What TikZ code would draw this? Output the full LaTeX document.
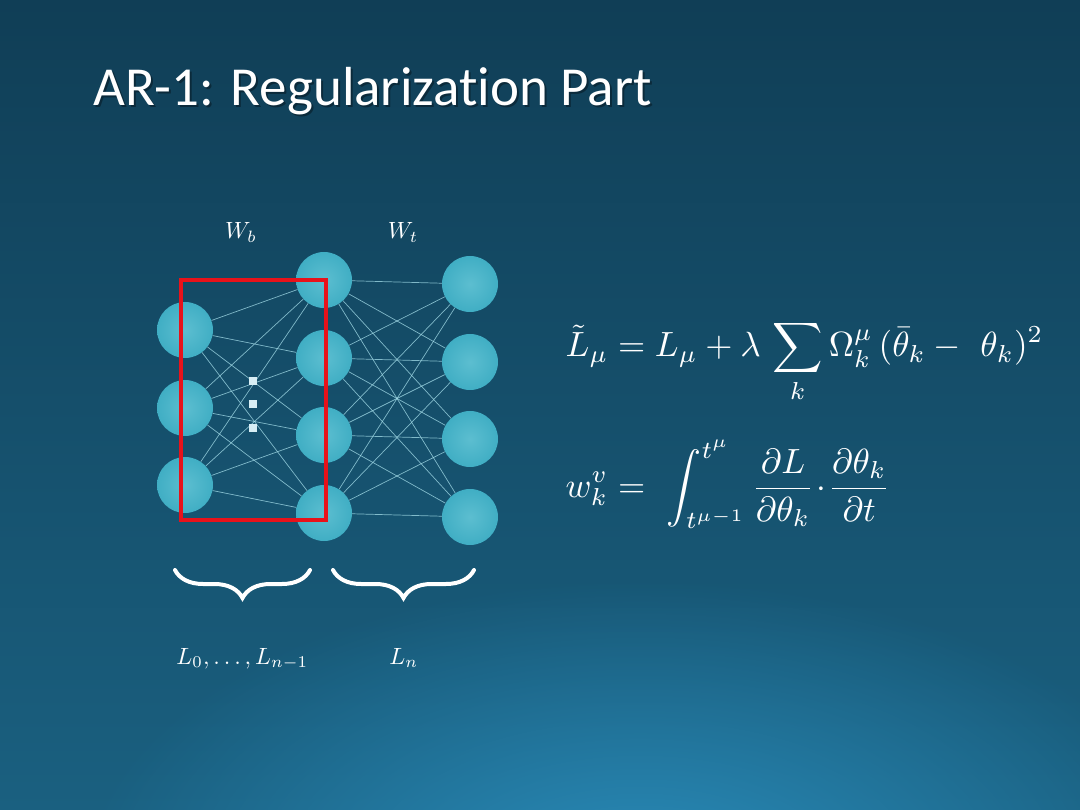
\documentclass[tikz,border=0pt]{standalone}
\usepackage{amsmath}
\usepackage{fontspec}
\newfontfamily\titlefont[Ligatures=NoCommon]{Carlito}
\usetikzlibrary{decorations.pathreplacing,fadings}
\definecolor{bgtop}{RGB}{16,62,86}
\definecolor{bgbot}{RGB}{26,96,128}
\definecolor{glowc}{RGB}{42,140,186}
\definecolor{neuron}{RGB}{64,174,196}
\definecolor{neuronhi}{RGB}{92,190,208}
\definecolor{edgec}{RGB}{165,222,234}
\definecolor{boxred}{RGB}{232,18,26}
\definecolor{dotc}{RGB}{215,238,245}
\tikzfading[name=glowfade, inner color=transparent!0, outer color=transparent!100]
\pgfdeclarelayer{bg}
\pgfdeclarelayer{edges}
\pgfsetlayers{bg,edges,main}
\begin{document}
\begin{tikzpicture}[x=1pt,y=-1pt,
  neuron/.style={circle, minimum size=56pt, inner sep=0pt, draw=none,
    shading=radial, inner color=neuronhi, outer color=neuron},
  edge/.style={edgec, line width=0.7pt, opacity=0.75},
  dotsq/.style={rectangle, fill=dotc, minimum size=8pt, inner sep=0pt},
  lbl/.style={text=white, font=\normalsize, inner sep=0pt, scale=2.35, transform shape},
  eq/.style={text=white, font=\normalsize, inner sep=0pt, anchor=base west, scale=3.5, transform shape},
  bracestyle/.style={draw=white, line width=4pt, line cap=round,
    decorate, decoration={brace, mirror, amplitude=28pt}}
]
\useasboundingbox (0,0) rectangle (1080,810);
\begin{pgfonlayer}{bg}
  \shade[top color=bgtop, bottom color=bgbot] (0,0) rectangle (1080,810);
  \fill[glowc, path fading=glowfade] (640,880) ellipse (560 and 300);
\end{pgfonlayer}

% title
\node[anchor=base west, text=black, opacity=0.35, inner sep=0pt,
  font=\titlefont\fontsize{55}{62}\selectfont] (titleshadow) at (95,108) {AR-1: Regularization Part};
\node[anchor=base west, text=white, inner sep=0pt,
  font=\titlefont\fontsize{55}{62}\selectfont] (title) at (93,106) {AR-1: Regularization Part};

% neurons
\node[neuron] (l1) at (185,330) {};
\node[neuron] (l2) at (185,408) {};
\node[neuron] (l3) at (185,485) {};
\node[neuron] (m1) at (324,280) {};
\node[neuron] (m2) at (324,358) {};
\node[neuron] (m3) at (324,435) {};
\node[neuron] (m4) at (324,513) {};
\node[neuron] (r1) at (470,284) {};
\node[neuron] (r2) at (470,362) {};
\node[neuron] (r3) at (470,439) {};
\node[neuron] (r4) at (470,517) {};

\begin{pgfonlayer}{edges}
  \foreach \a in {l1,l2,l3}
    \foreach \b in {m1,m2,m3,m4}
      \draw[edge] (\a) -- (\b);
  \foreach \a in {m1,m2,m3,m4}
    \foreach \b in {r1,r2,r3,r4}
      \draw[edge] (\a) -- (\b);
\end{pgfonlayer}

\node[dotsq] (d1) at (253,381) {};
\node[dotsq] (d2) at (253,404) {};
\node[dotsq] (d3) at (253,428) {};

% red box
\draw[boxred, line width=4.5pt] (181,280) rectangle (326,520);

% weight labels
\node[lbl, anchor=base] (wb) at (241,239) {$W_b$};
\node[lbl, anchor=base] (wt) at (403,239) {$W_t$};

% braces
\coordinate (b1s) at (175,570);
\coordinate (b1e) at (310,570);
\coordinate (b2s) at (333,570);
\coordinate (b2e) at (474,570);
\draw[bracestyle] (b1s) -- (b1e);
\draw[bracestyle] (b2s) -- (b2e);

% layer labels
\node[lbl, anchor=base west] (lall) at (176,664) {$L_0, \ldots, L_{n-1}$};
\node[lbl, anchor=base west] (ln) at (389,664) {$L_n$};

% equations
\node[eq] (eq1) at (565,357) {$\displaystyle \tilde{L}_\mu = L_\mu + \lambda\, \sum_k \Omega_k^\mu\,(\bar{\theta}_k -\ \theta_k)^2$};
\node[eq] (eq2) at (565,497) {$\displaystyle w_k^v =\ \int_{t^{\mu-1}}^{t^{\mu}} \frac{\partial L}{\partial \theta_k}\!\cdot\!\frac{\partial \theta_k}{\partial t}$};
\end{tikzpicture}
\end{document}
